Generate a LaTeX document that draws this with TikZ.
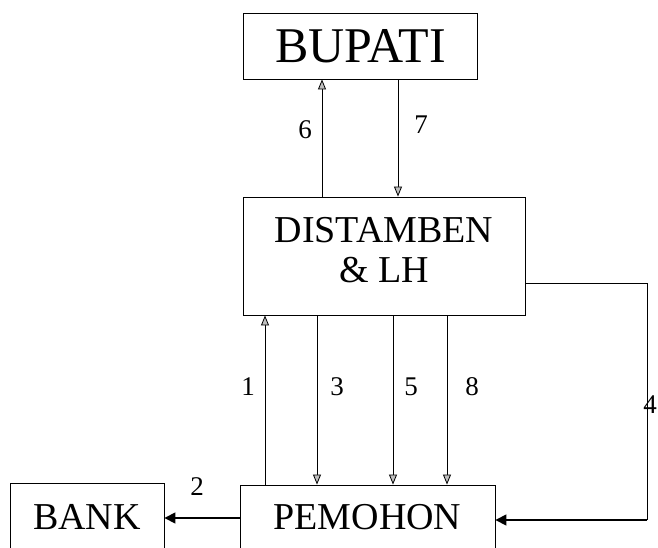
\documentclass[tikz,border=0pt]{standalone}
\usepackage{fontspec}
\setmainfont{Liberation Serif}
\usetikzlibrary{arrows.meta}
\begin{document}
\begin{tikzpicture}[x=1pt,y=-1pt,
  box/.style={draw, line width=0.9pt, inner sep=0pt},
  thin/.style={line width=0.8pt, -{Triangle[length=10pt,width=8pt,fill=gray!50]}},
  thick/.style={line width=1.6pt, -{Triangle[length=11pt,width=11pt]}},
  num/.style={font=\fontsize{27}{29}\selectfont, inner sep=0pt},
  big/.style={font=\fontsize{38}{40}\selectfont, inner sep=0pt, align=center}]
\useasboundingbox (0,0) rectangle (658,548);
% boxes
\node[box, minimum width=234pt, minimum height=66pt, font=\fontsize{50}{52}\selectfont] (bup) at (360.5,46) {BUPATI};
\node[box, minimum width=282pt, minimum height=118pt] (dis) at (384,256) {};
\node[big] (distext) at (384,250) {DISTAMBEN\\\& LH};
\node[box, minimum width=255pt, minimum height=76pt] (pem) at (367.5,523) {};
\node[big] (pemtext) at (367.5,517) {PEMOHON};
\node[box, minimum width=154pt, minimum height=76pt] (bank) at (87,521) {};
\node[big] (banktext) at (87,517) {BANK};
% reference coordinates
\coordinate (c6) at (322,0);
\coordinate (c7) at (398,0);
\coordinate (c1) at (265,0);
\coordinate (c3) at (317,0);
\coordinate (c5) at (393,0);
\coordinate (c8) at (447,0);
\coordinate (y2) at (0,518);
\coordinate (r4a) at (647,283);
\coordinate (r4b) at (647,520);
% connectors
\draw[thin] (dis.north -| c6) -- (bup.south -| c6);
\draw[thin] (bup.south -| c7) -- (dis.north -| c7);
\draw[thin] (pem.north -| c1) -- (dis.south -| c1);
\draw[thin] (dis.south -| c3) -- (pem.north -| c3);
\draw[thin] (dis.south -| c5) -- (pem.north -| c5);
\draw[thin] (dis.south -| c8) -- (pem.north -| c8);
\draw[thick] (pem.west |- y2) -- (bank.east |- y2);
\draw[line width=0.9pt] (dis.east |- r4a) -- (r4a) -- (r4b);
\draw[thick] (r4b) -- (pem.east |- r4b);
% labels
\node[num] (l6) at (305,130) {6};
\node[num] (l7) at (421,125) {7};
\node[num] (l1) at (248,387) {1};
\node[num] (l3) at (337,387) {3};
\node[num] (l5) at (411,387) {5};
\node[num] (l8) at (472,387) {8};
\node[num] (l2) at (197,487) {2};
\node[num] (l4) at (650,405) {4};
\end{tikzpicture}
\end{document}
